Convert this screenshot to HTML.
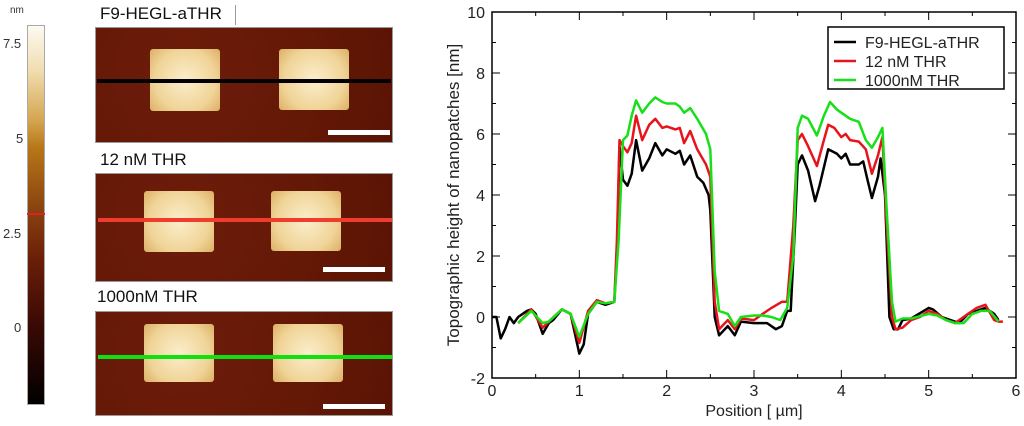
<!DOCTYPE html>
<html><head><meta charset="utf-8"><style>
body{margin:0;width:1024px;height:426px;background:#fff;overflow:hidden;font-family:"Liberation Sans",sans-serif;position:relative}
.abs{position:absolute}
.img{position:absolute;left:95px;width:298px;background:radial-gradient(circle at 30% 40%,#6e1c0a,#641806 60%,#5a1404);border:1px solid #999;box-sizing:border-box}
.sq{position:absolute;background:radial-gradient(circle at 50% 50%,#fbeecb,#f0d498 65%,#dcaf64);border-radius:3px}
.bar{position:absolute;background:#fff;height:5px}
.ttl{position:absolute;font-size:17px;color:#111}
.cl{position:absolute;font-size:13px;color:#333;left:6px}
</style></head><body>
<div class="abs" style="left:0;top:0;width:420px;height:426px">
<div class="abs" style="left:10px;top:5px;font-size:10px;color:#333">nm</div>
<div class="abs" style="left:27px;top:25px;width:18px;height:380px;border:1px solid #aaa;box-sizing:border-box;background:linear-gradient(to bottom,#fdfaf2 0%,#f0dcae 12%,#d4a550 25%,#b87818 32%,#8a4410 48%,#6a1e08 62%,#3e0a04 78%,#000 100%)"></div>
<div class="abs" style="left:27px;top:213px;width:18px;height:2px;background:#e02020"></div>
<div class="cl" style="top:36px;left:3px">7.5</div>
<div class="cl" style="top:131px;left:16px">5</div>
<div class="cl" style="top:226px;left:3px">2.5</div>
<div class="cl" style="top:320px;left:14px">0</div>

<div class="ttl" style="left:100px;top:4px">F9-HEGL-aTHR</div>
<div class="abs" style="left:235px;top:5px;width:1px;height:20px;background:#999"></div>
<div class="img" style="top:27px;height:116px">
<div class="sq" style="left:54px;top:21px;width:70px;height:62px"></div>
<div class="sq" style="left:183px;top:21px;width:70px;height:61px"></div>
<div class="abs" style="left:1px;top:51px;width:294px;height:4px;background:#000"></div>
<div class="bar" style="left:232px;top:102px;width:62px"></div></div>

<div class="ttl" style="left:100px;top:150px">12 nM THR</div>
<div class="img" style="top:173px;height:109px">
<div class="sq" style="left:48px;top:17px;width:70px;height:61px"></div>
<div class="sq" style="left:175px;top:17px;width:70px;height:60px"></div>
<div class="abs" style="left:2px;top:44px;width:294px;height:4px;background:#f03c2c"></div>
<div class="bar" style="left:227px;top:93px;width:62px"></div></div>

<div class="ttl" style="left:97px;top:287px">1000nM THR</div>
<div class="img" style="top:311px;height:105px">
<div class="sq" style="left:48px;top:12px;width:70px;height:58px"></div>
<div class="sq" style="left:177px;top:12px;width:70px;height:58px"></div>
<div class="abs" style="left:2px;top:43px;width:294px;height:4px;background:#10e010"></div>
<div class="bar" style="left:227px;top:92px;width:62px"></div></div>
</div>

<svg id="chart" class="abs" style="left:0;top:0" width="1024" height="426"></svg>
<script>
const xTicks=[0,1,2,3,4,5,6];
const yTicks=[-2,0,2,4,6,8,10];
const seriesNames=["F9-HEGL-aTHR","12 nM THR","1000nM THR"];
const seriesColors=["#000","#e8141c","#18e018"];
const blackX=[0,0.05,0.1,0.15,0.2,0.25,0.3,0.4,0.45,0.5,0.58,0.65,0.7,0.8,0.9,1.0,1.05,1.1,1.2,1.3,1.4,1.43,1.46,1.5,1.55,1.6,1.65,1.72,1.8,1.87,1.95,2.0,2.1,2.15,2.2,2.27,2.35,2.42,2.48,2.5,2.55,2.6,2.7,2.78,2.85,3.0,3.15,3.25,3.32,3.38,3.42,3.47,3.5,3.55,3.62,3.7,3.75,3.85,3.95,4.0,4.05,4.1,4.2,4.25,4.3,4.35,4.42,4.45,4.5,4.55,4.6,4.65,4.7,4.8,5.0,5.05,5.15,5.25,5.35,5.45,5.55,5.65,5.75,5.8];
const blackY=[0,0,-0.7,-0.4,0,-0.2,0,0.2,0.25,0.1,-0.55,-0.2,-0.1,0.25,0.1,-1.2,-0.9,0.1,0.5,0.4,0.5,2,5.6,4.5,4.3,4.7,5.8,4.8,5.2,5.7,5.3,5.5,5.35,5.45,5.0,5.3,4.6,4.4,4.0,3.5,0,-0.6,-0.3,-0.6,-0.15,-0.2,-0.2,-0.4,-0.3,0.2,0.2,3,5.0,5.3,4.8,3.8,4.3,5.5,5.35,5.2,5.35,5.0,5.0,5.1,4.5,3.9,4.6,5.2,4,0,-0.4,-0.4,-0.1,-0.05,0.3,0.25,0,-0.1,-0.2,0.1,0.2,0.3,0.1,-0.1];
const redX=[0.3,0.45,0.58,0.65,0.8,0.9,1.0,1.1,1.2,1.3,1.4,1.43,1.46,1.5,1.55,1.6,1.65,1.72,1.8,1.87,1.95,2.0,2.1,2.15,2.2,2.27,2.35,2.45,2.5,2.55,2.6,2.7,2.78,2.85,3.0,3.1,3.2,3.32,3.38,3.45,3.5,3.55,3.62,3.72,3.8,3.85,3.92,4.0,4.05,4.1,4.2,4.28,4.35,4.42,4.47,4.52,4.58,4.62,4.7,4.8,4.9,5.0,5.1,5.2,5.3,5.45,5.55,5.65,5.75,5.8,5.85];
const redY=[-0.2,0.25,-0.35,-0.15,0.25,0.1,-0.85,0.2,0.55,0.45,0.5,2.5,5.8,5.6,5.4,5.7,6.6,5.8,6.3,6.5,6.2,6.25,6.15,6.2,5.7,6.1,5.5,5.0,4.6,0.5,-0.4,-0.1,-0.4,-0.05,-0.1,0.1,0.3,0.5,0.5,3,5.8,6.0,5.6,4.95,5.8,6.3,6.2,5.9,6.0,5.8,5.75,5.5,4.7,5.3,5.9,3,0,-0.4,-0.35,-0.1,0,0.2,0.1,-0.1,-0.2,0.1,0.3,0.4,-0.1,-0.15,-0.15];
const greenX=[0.3,0.45,0.58,0.65,0.8,0.9,1.0,1.1,1.2,1.3,1.4,1.45,1.5,1.55,1.6,1.65,1.72,1.8,1.87,1.95,2.0,2.1,2.15,2.2,2.27,2.35,2.45,2.5,2.55,2.6,2.7,2.78,2.85,3.0,3.1,3.2,3.3,3.38,3.45,3.5,3.55,3.62,3.72,3.8,3.87,3.95,4.0,4.1,4.2,4.28,4.35,4.42,4.47,4.52,4.58,4.62,4.7,4.8,5.0,5.1,5.2,5.3,5.4,5.5,5.6,5.7,5.8];
const greenY=[-0.2,0.2,-0.2,-0.15,0.25,0.1,-0.65,0.1,0.5,0.45,0.5,2.5,5.8,5.95,6.6,7.1,6.7,7.0,7.2,7.05,7.0,7.0,6.9,6.7,6.85,6.5,6.0,5.5,1.5,0.2,0.1,-0.3,0,0.05,0.05,0,-0.1,0.3,2,6.2,6.6,6.5,5.95,6.6,7.05,6.8,6.7,6.5,6.4,5.8,5.55,5.9,6.2,3.5,0.5,-0.15,-0.05,-0.05,0.1,0.05,-0.1,-0.2,-0.2,0.1,0.2,0.2,-0.15];
const L=492,R=1016,T=12,B=378;
const sx=v=>L+(v-0)/(6-0)*(R-L);
const sy=v=>B-(v+2)/12*(B-T);
const svg=document.getElementById('chart');
const NS='http://www.w3.org/2000/svg';
function mk(t,a){const e=document.createElementNS(NS,t);for(const k in a)e.setAttribute(k,a[k]);svg.appendChild(e);return e;}
let fr=mk('rect',{x:L,y:T,width:R-L,height:B-T,fill:'none',stroke:'#000','stroke-width':1.5});


for(let v=0;v<=6.001;v+=0.5){const x=sx(v),len=(Math.abs(v-Math.round(v))<1e-6)?8:4;
mk('line',{x1:x,x2:x,y1:B,y2:B-len,stroke:'#000'});mk('line',{x1:x,x2:x,y1:T,y2:T+len,stroke:'#000'});}
for(let v=-2;v<=10.001;v+=1){const y=sy(v),len=(v%2===0)?8:4;
mk('line',{x1:L,x2:L+len,y1:y,y2:y,stroke:'#000'});mk('line',{x1:R,x2:R-len,y1:y,y2:y,stroke:'#000'});}
xTicks.forEach(v=>{const t=mk('text',{x:sx(v),y:B+18,'text-anchor':'middle','font-size':16,fill:'#222'});t.textContent=v;

});
yTicks.forEach(v=>{const t=mk('text',{x:L-7,y:sy(v)+6,'text-anchor':'end','font-size':16,fill:'#222'});t.textContent=v;

});
const xt=mk('text',{x:(L+R)/2,y:416,'text-anchor':'middle','font-size':16,fill:'#222'});xt.textContent='Position [ µm]';


const yt=mk('text',{x:0,y:0,'text-anchor':'middle','font-size':17,fill:'#222',transform:`translate(459,${(T+B)/2}) rotate(-90)`});yt.textContent='Topographic height of nanopatches [nm]';


const data=[[blackX,blackY],[redX,redY],[greenX,greenY]];
data.forEach((d,i)=>{const pts=d[0].map((x,j)=>sx(x).toFixed(1)+','+sy(d[1][j]).toFixed(1)).join(' ');
const p=mk('polyline',{points:pts,fill:'none',stroke:seriesColors[i],'stroke-width':2.5,'stroke-linejoin':'round'});

});
const lg=mk('rect',{x:828,y:27,width:176,height:62,fill:'#fff',stroke:'#000','stroke-width':1.5});


seriesNames.forEach((n,i)=>{const y=42+i*19;
mk('line',{x1:834,x2:856,y1:y,y2:y,stroke:seriesColors[i],'stroke-width':2.5});
const t=mk('text',{x:865,y:y+6,'font-size':16,fill:'#222'});t.textContent=n;

});
</script>
</body></html>
